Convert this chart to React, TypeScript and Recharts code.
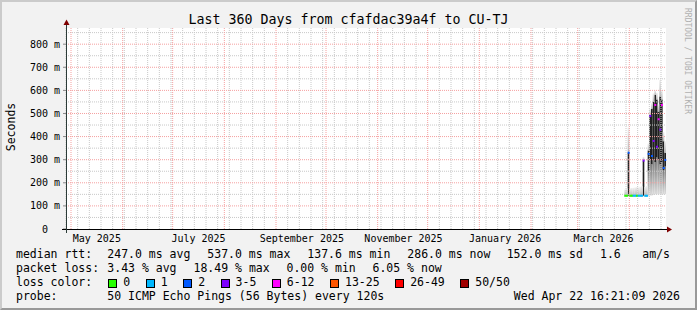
import { Bar, CartesianGrid, ComposedChart, Line, ReferenceLine, XAxis, YAxis } from "recharts"

const W = 697
const H = 310
const PLOT_W = 600
const DAYS = 360
const BAND = PLOT_W / DAYS
const FONT = '"DejaVu Sans Mono", monospace'
const CW = 11.5 * 0.602

// one slot per day, 360 days ending Wed Apr 22 2026
const firstDay = Date.UTC(2025, 3, 28)
const days: string[] = Array.from({ length: DAYS }, (_, i) =>
  new Date(firstDay + i * 86400000).toISOString().slice(0, 10)
)

// days with measurements: 2026-03-29 .. 2026-04-22 (ms)
const dataStart = "2026-03-29"
const smokeLow = [140, 140, 141, 140, 140, 140, 140, 140, 140, 140, 140, 141, 140, 140, 142, 145, 145, 148, 150, 150, 150, 150, 150, 150, 150]
const denseLow = [140, 140, 145, 140, 140, 140, 140, 140, 140, 140, 140, 145, 140, 140, 250, 300, 280, 300, 290, 310, 300, 280, 290, 255, 270]
const denseHigh = [140, 140, 330, 140, 140, 140, 140, 140, 140, 140, 140, 296, 140, 140, 340, 493, 520, 551, 580, 560, 508, 573, 560, 380, 330]
const smokeHigh = [172, 175, 440, 176, 178, 178, 180, 182, 180, 183, 185, 312, 182, 186, 370, 520, 545, 587, 600, 590, 540, 645, 600, 420, 380]
const medianRtt = [144, 144, 330, 144, 144, 144, 144, 144, 144, 144, 144, 296, 144, 144, 325, 489, 316, 381, 537, 356, 475, 430, 537, 264, 299]
const lossBucket = [0, 0, 2, 0, 0, 1, 1, 0, 1, 1, 1, 3, 1, 1, 2, 3, 2, 3, 4, 3, 4, 3, 4, 2, 2]

const lossColors = ["#26ff00", "#00b8ff", "#0059ff", "#7e00ff", "#ff00ff", "#ff5500", "#ff0000", "#a10000"]
const lossLabels = ["0", "1", "2", "3-5", "6-12", "13-25", "26-49", "50/50"]

const xLabelDays = ["2025-05-16", "2025-07-16", "2025-09-16", "2025-11-16", "2026-01-16", "2026-03-16"]
const yTicks = [0, 100, 200, 300, 400, 500, 600, 700, 800]
const yMinor = [50, 150, 250, 350, 450, 550, 650, 750, 850]
const monthNames = ["January", "February", "March", "April", "May", "June", "July", "August", "September", "October", "November", "December"]

const monthStarts = days.filter(d => d.endsWith("-01"))
const mondays = days.filter(d => new Date(d + "T00:00:00Z").getUTCDay() === 1 && !d.endsWith("-01"))

const offset = days.indexOf(dataStart)
const table = days.map((day, i) => {
  const j = i - offset
  if (j < 0 || j >= medianRtt.length) return { day }
  return {
    day,
    base: smokeLow[j],
    low: denseLow[j] - smokeLow[j],
    dense: denseHigh[j] - denseLow[j],
    high: smokeHigh[j] - denseHigh[j],
    median: medianRtt[j],
    loss: lossBucket[j],
  }
})

const line1: [number, string][] = [
  [16, "median rtt:"], [107.3, "247.0 ms avg"], [207.3, "537.0 ms max"], [307.3, "137.6 ms min"],
  [407.3, "286.0 ms now"], [506.7, "152.0 ms sd"], [600, "1.6"], [642.3, "am/s"],
]
const line2: [number, string][] = [
  [16, "packet loss:"], [107.3, "3.43 % avg"], [193.5, "18.49 % max"], [286.5, "0.00 % min"], [372.5, "6.05 % now"],
]

const YTick = ({ x, y, payload }: any) => {
  const v = payload.value
  return (
    <text x={v === 0 ? x - 12 : x} y={y} dy={3.6} textAnchor="end" fontFamily={FONT} fontSize={10} fill="#000">
      {v === 0 ? "0" : `${v} m`}
    </text>
  )
}

const XTick = ({ x, y, payload }: any) => {
  const d = new Date(payload.value + "T00:00:00Z")
  return (
    <text x={x} y={y} dy={12.5} textAnchor="middle" fontFamily={FONT} fontSize={10} fill="#000">
      {`${monthNames[d.getUTCMonth()]} ${d.getUTCFullYear()}`}
    </text>
  )
}

const MedianDot = (props: any) => {
  const { cx, cy, payload, index } = props
  if (payload == null || payload.median == null || cy == null || isNaN(cy)) return <g key={`m${index}`} />
  return <rect key={`m${index}`} x={cx - BAND / 2} y={cy - 1} width={BAND + 0.3} height={2} fill={lossColors[payload.loss]} />
}

const Legend = () => {
  let bx = 108.3
  const items = lossLabels.map((label, i) => {
    const x = bx
    bx = x + 15 + label.length * CW + 15.5
    return (
      <g key={label}>
        <rect x={Math.round(x) + 0.5} y={279.5} width={8} height={8} fill={lossColors[i]} stroke="#000" />
        <text x={x + 15} y={286} fontFamily={FONT} fontSize={11.5} fill="#000">{label}</text>
      </g>
    )
  })
  return (
    <g fontFamily={FONT} fontSize={11.5} fill="#000">
      {line1.map(([x, t]) => <text key={t} x={x} y={258}>{t}</text>)}
      {line2.map(([x, t]) => <text key={t} x={x} y={272}>{t}</text>)}
      <text x={16} y={286}>loss color:</text>
      {items}
      <text x={16} y={300}>probe:</text>
      <text x={107.3} y={300}>50 ICMP Echo Pings (56 Bytes) every 120s</text>
      <text x={680} y={300} textAnchor="end">Wed Apr 22 16:21:09 2026</text>
    </g>
  )
}

const App = () => {
  return (
    <div style={{ position: "absolute", left: 0, top: 0, width: W, height: H, background: "#f2f2f2", boxSizing: "border-box", borderTop: "2px solid #cbcbcb", borderLeft: "2px solid #cbcbcb", borderRight: "2px solid #999", borderBottom: "2px solid #999" }}>
      <div style={{ position: "absolute", left: -2, top: -2 }}>
        <ComposedChart width={W} height={H} data={table} margin={{ top: 28, right: 31, bottom: 61, left: 0 }}
          barCategoryGap={0} barGap={0} barSize={BAND - 0.01}>
          <defs>
            <linearGradient id="smokeTop" x1="0" y1="1" x2="0" y2="0">
              <stop offset="0%" stopColor="#b4b4b4" />
              <stop offset="100%" stopColor="#f0f0f0" />
            </linearGradient>
            <linearGradient id="smokeLow" x1="0" y1="1" x2="0" y2="0">
              <stop offset="0%" stopColor="#dcdcdc" />
              <stop offset="100%" stopColor="#7a7a7a" />
            </linearGradient>
          </defs>
          <CartesianGrid horizontal={false} vertical={false} fill="#ffffff" />
          <XAxis dataKey="day" type="category" ticks={xLabelDays} interval={0} tick={<XTick />}
            tickLine={false} axisLine={false} tickSize={0} tickMargin={0} height={20} />
          <YAxis type="number" domain={[0, 870]} ticks={yTicks} tick={<YTick />} width={66}
            axisLine={false} tickLine={{ stroke: "#888" }} tickSize={3} tickMargin={3} />
          <Bar dataKey="base" stackId="smoke" fill="none" isAnimationActive={false} />
          <Bar dataKey="low" stackId="smoke" fill="url(#smokeLow)" isAnimationActive={false} />
          <Bar dataKey="dense" stackId="smoke" fill="#202020" isAnimationActive={false} />
          <Bar dataKey="high" stackId="smoke" fill="url(#smokeTop)" isAnimationActive={false} />
          {yMinor.map(v => (
            <ReferenceLine key={`ym${v}`} y={v} stroke="#c8c8c8" strokeDasharray="1 1" />
          ))}
          {mondays.map(d => (
            <ReferenceLine key={`w${d}`} x={d} position="start" stroke="#c8c8c8" strokeDasharray="1 1" />
          ))}
          {yTicks.filter(v => v > 0).map(v => (
            <ReferenceLine key={`yM${v}`} y={v} stroke="#f5a0a0" strokeDasharray="1 1" />
          ))}
          {monthStarts.map(d => (
            <ReferenceLine key={`m${d}`} x={d} position="start" stroke="#f5a0a0" strokeDasharray="1 1" />
          ))}
          <Line dataKey="median" stroke="none" dot={MedianDot} activeDot={false} connectNulls={false} isAnimationActive={false} />
        </ComposedChart>
        <svg width={W} height={H} style={{ position: "absolute", left: 0, top: 0, pointerEvents: "none" }}>
          <text x={348.5} y={24} textAnchor="middle" fontFamily={FONT} fontSize={13.3} fill="#000">
            Last 360 Days from cfafdac39a4f to CU-TJ
          </text>
          <text x={685} y={8} transform="rotate(90 685 8)" fontFamily={FONT} fontSize={8} fill="#b0b0b0">
            RRDTOOL / TOBI OETIKER
          </text>
          <text x={14.5} y={127} transform="rotate(-90 14.5 127)" textAnchor="middle" fontFamily={FONT} fontSize={11.5} fill="#000">
            Seconds
          </text>
          <line x1={62} y1={229.5} x2={668} y2={229.5} stroke="#000" />
          <line x1={66.5} y1={233} x2={66.5} y2={24} stroke="#2c3c38" />
          <polygon points="667,226.5 672,229.5 667,232.5" fill="#7f0000" />
          <polygon points="63.5,25 66.5,19.5 69.5,25" fill="#7f0000" />
          <Legend />
        </svg>
      </div>
    </div>
  )
}

export default App
